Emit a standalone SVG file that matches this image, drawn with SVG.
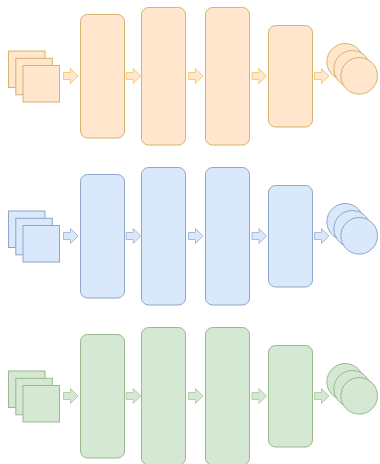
<svg xmlns="http://www.w3.org/2000/svg" width="380" height="464" viewBox="0 0 380 464">
<defs>
<style>
.o{fill:#ffe6cc;stroke:#d6b36e}
.b{fill:#dae8fc;stroke:#8ea6c9}
.g{fill:#d5e8d4;stroke:#9ab88d}
.ao{fill:#ffe6cc;stroke:#f2cd7a}
.ab{fill:#dae8fc;stroke:#a8bddc}
.ag{fill:#d5e8d4;stroke:#b5d0a9}
rect,circle,path{stroke-width:1}
</style>
<path id="arr" d="M0,-3.5 H7 V-7.5 L14.5,0 L7,7.5 V3.5 H0 Z"/>
</defs>
<rect width="380" height="464" fill="#ffffff"/>

<!-- Row 1 orange -->
<g id="row1-input"><rect class="o" x="8.5" y="51" width="36.5" height="36.5"/><rect class="o" x="15.8" y="58.3" width="36.5" height="36.5"/><rect class="o" x="23" y="65.5" width="36.5" height="36.5"/></g>
<g id="row1-layer1"><rect class="o" x="80.5" y="14.5" width="44" height="123.5" rx="7"/></g>
<g id="row1-layer2"><rect class="o" x="141.5" y="7.5" width="44" height="137.5" rx="7"/></g>
<g id="row1-layer3"><rect class="o" x="205.5" y="7.5" width="44" height="137.5" rx="7"/></g>
<g id="row1-layer4"><rect class="o" x="268.5" y="25.5" width="44" height="101.5" rx="7"/></g>
<g id="row1-output"><circle class="o" cx="345.2" cy="61.8" r="18.3"/><circle class="o" cx="352.2" cy="68.8" r="18.3"/><circle class="o" cx="359.2" cy="75.8" r="18.3"/></g>

<!-- Row 2 blue -->
<g id="row2-input"><rect class="b" x="8.5" y="211" width="36.5" height="36.5"/><rect class="b" x="15.8" y="218.3" width="36.5" height="36.5"/><rect class="b" x="23" y="225.5" width="36.5" height="36.5"/></g>
<g id="row2-layer1"><rect class="b" x="80.5" y="174.5" width="44" height="123.5" rx="7"/></g>
<g id="row2-layer2"><rect class="b" x="141.5" y="167.5" width="44" height="137.5" rx="7"/></g>
<g id="row2-layer3"><rect class="b" x="205.5" y="167.5" width="44" height="137.5" rx="7"/></g>
<g id="row2-layer4"><rect class="b" x="268.5" y="185.5" width="44" height="101.5" rx="7"/></g>
<g id="row2-output"><circle class="b" cx="345.2" cy="221.8" r="18.3"/><circle class="b" cx="352.2" cy="228.8" r="18.3"/><circle class="b" cx="359.2" cy="235.8" r="18.3"/></g>

<!-- Row 3 green -->
<g id="row3-input"><rect class="g" x="8.5" y="371" width="36.5" height="36.5"/><rect class="g" x="15.8" y="378.3" width="36.5" height="36.5"/><rect class="g" x="23" y="385.5" width="36.5" height="36.5"/></g>
<g id="row3-layer1"><rect class="g" x="80.5" y="334.5" width="44" height="123.5" rx="7"/></g>
<g id="row3-layer2"><rect class="g" x="141.5" y="327.5" width="44" height="137.5" rx="7"/></g>
<g id="row3-layer3"><rect class="g" x="205.5" y="327.5" width="44" height="137.5" rx="7"/></g>
<g id="row3-layer4"><rect class="g" x="268.5" y="345.5" width="44" height="101.5" rx="7"/></g>
<g id="row3-output"><circle class="g" cx="345.2" cy="381.8" r="18.3"/><circle class="g" cx="352.2" cy="388.8" r="18.3"/><circle class="g" cx="359.2" cy="395.8" r="18.3"/></g>

<g id="connectors">
<use href="#arr" class="ao" x="63.5" y="76"/><use href="#arr" class="ao" x="126.2" y="76"/><use href="#arr" class="ao" x="188.5" y="76"/><use href="#arr" class="ao" x="252" y="76"/><use href="#arr" class="ao" x="314.5" y="76"/>
<use href="#arr" class="ab" x="63.5" y="236"/><use href="#arr" class="ab" x="126.2" y="236"/><use href="#arr" class="ab" x="188.5" y="236"/><use href="#arr" class="ab" x="252" y="236"/><use href="#arr" class="ab" x="314.5" y="236"/>
<use href="#arr" class="ag" x="63.5" y="396"/><use href="#arr" class="ag" x="126.2" y="396"/><use href="#arr" class="ag" x="188.5" y="396"/><use href="#arr" class="ag" x="252" y="396"/><use href="#arr" class="ag" x="314.5" y="396"/>
</g>
</svg>
